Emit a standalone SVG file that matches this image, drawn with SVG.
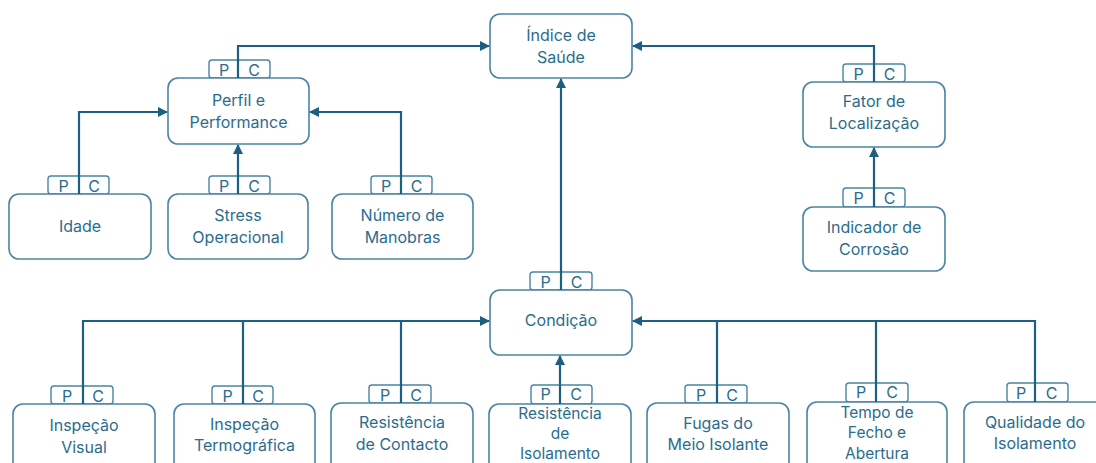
<svg xmlns="http://www.w3.org/2000/svg" width="1096" height="463" viewBox="0 0 1096 463">
<style>
.box{fill:#fff;stroke:#4A84A4;stroke-width:1.6}
.tab{fill:#fff;stroke:#4A84A4;stroke-width:1.4}
.t{font-family:Inter,"Open Sans","Liberation Sans",sans-serif;font-size:16px;fill:#2B6C8E;text-anchor:middle}
.t3{font-family:Inter,"Open Sans","Liberation Sans",sans-serif;font-size:15.5px;fill:#2B6C8E;text-anchor:middle}
.pc{font-family:Inter,"Open Sans","Liberation Sans",sans-serif;font-size:16px;fill:#2B6C8E;text-anchor:middle}
.c{fill:none;stroke:#1D5F80;stroke-width:2.2}
</style>
<defs>
<marker id="a" markerWidth="10" markerHeight="10" refX="9" refY="5" orient="auto" markerUnits="userSpaceOnUse">
<path d="M0,0 L10,5 L0,10 z" fill="#1D5F80"/>
</marker>
</defs>
<rect width="1096" height="463" fill="#fff"/>

<g id="indice">
<rect class="box" x="490" y="14" width="142" height="64" rx="10"/>
<text class="t" x="561" y="41">Índice de</text>
<text class="t" x="561" y="63">Saúde</text>
</g>

<g id="perfil">
<rect class="tab" x="209" y="60" width="61" height="18" rx="3"/>
<text class="pc" x="224" y="75.5">P</text><text class="pc" x="254" y="75.5">C</text>
<rect class="box" x="168" y="78" width="141" height="66" rx="10"/>
<text class="t" x="238.5" y="106">Perfil e</text>
<text class="t" x="238.5" y="128">Performance</text>
</g>

<g id="fator">
<rect class="tab" x="843" y="64" width="62" height="18" rx="3"/>
<text class="pc" x="858.5" y="79.5">P</text><text class="pc" x="889.5" y="79.5">C</text>
<rect class="box" x="803" y="82" width="142" height="65" rx="10"/>
<text class="t" x="874" y="107">Fator de</text>
<text class="t" x="874" y="129">Localização</text>
</g>

<g id="idade">
<rect class="tab" x="48" y="176" width="61" height="18" rx="3"/>
<text class="pc" x="63.5" y="191.5">P</text><text class="pc" x="94" y="191.5">C</text>
<rect class="box" x="9" y="194" width="142" height="65" rx="10"/>
<text class="t" x="80" y="232">Idade</text>
</g>

<g id="stress">
<rect class="tab" x="209" y="176" width="61" height="18" rx="3"/>
<text class="pc" x="224" y="191.5">P</text><text class="pc" x="254" y="191.5">C</text>
<rect class="box" x="168" y="194" width="140" height="65" rx="10"/>
<text class="t" x="238" y="221">Stress</text>
<text class="t" x="238" y="243">Operacional</text>
</g>

<g id="manobras">
<rect class="tab" x="371" y="176" width="61" height="18" rx="3"/>
<text class="pc" x="386" y="191.5">P</text><text class="pc" x="416.5" y="191.5">C</text>
<rect class="box" x="332" y="194" width="141" height="65" rx="10"/>
<text class="t" x="402.5" y="221">Número de</text>
<text class="t" x="402.5" y="243">Manobras</text>
</g>

<g id="corrosao">
<rect class="tab" x="843" y="188" width="62" height="19" rx="3"/>
<text class="pc" x="858.5" y="204">P</text><text class="pc" x="889.5" y="204">C</text>
<rect class="box" x="803" y="207" width="142" height="64" rx="10"/>
<text class="t" x="874" y="233">Indicador de</text>
<text class="t" x="874" y="255">Corrosão</text>
</g>

<g id="condicao">
<rect class="tab" x="530" y="272" width="62" height="18" rx="3"/>
<text class="pc" x="545.5" y="287.5">P</text><text class="pc" x="576.5" y="287.5">C</text>
<rect class="box" x="490" y="290" width="142" height="65" rx="10"/>
<text class="t" x="561" y="326">Condição</text>
</g>

<g id="visual">
<rect class="tab" x="51" y="386" width="62" height="18" rx="3"/>
<text class="pc" x="67" y="401.5">P</text><text class="pc" x="98" y="401.5">C</text>
<rect class="box" x="13" y="404" width="142" height="70" rx="10"/>
<text class="t" x="84" y="431">Inspeção</text>
<text class="t" x="84" y="453">Visual</text>
</g>

<g id="termografica">
<rect class="tab" x="212" y="386" width="61" height="18" rx="3"/>
<text class="pc" x="227.5" y="401.5">P</text><text class="pc" x="258" y="401.5">C</text>
<rect class="box" x="174" y="404" width="141" height="70" rx="10"/>
<text class="t" x="244.5" y="430">Inspeção</text>
<text class="t" x="244.5" y="451">Termográfica</text>
</g>

<g id="contacto">
<rect class="tab" x="369" y="385" width="62" height="18" rx="3"/>
<text class="pc" x="385" y="400.5">P</text><text class="pc" x="416" y="400.5">C</text>
<rect class="box" x="331" y="403" width="142" height="70" rx="10"/>
<text class="t" x="402" y="428">Resistência</text>
<text class="t" x="402" y="450">de Contacto</text>
</g>

<g id="isolamento">
<rect class="tab" x="531" y="385" width="61" height="19" rx="3"/>
<text class="pc" x="545.5" y="399.5">P</text><text class="pc" x="576" y="399.5">C</text>
<rect class="box" x="489" y="404" width="142" height="70" rx="10"/>
<text class="t3" x="560" y="419">Resistência</text>
<text class="t3" x="560" y="439">de</text>
<text class="t3" x="560" y="458.5">Isolamento</text>
</g>

<g id="fugas">
<rect class="tab" x="685" y="385" width="62" height="18" rx="3"/>
<text class="pc" x="701" y="400.5">P</text><text class="pc" x="732" y="400.5">C</text>
<rect class="box" x="647" y="403" width="142" height="70" rx="10"/>
<text class="t" x="718" y="429">Fugas do</text>
<text class="t" x="718" y="450">Meio Isolante</text>
</g>

<g id="tempo">
<rect class="tab" x="846" y="383" width="62" height="19" rx="3"/>
<text class="pc" x="861" y="398">P</text><text class="pc" x="892" y="398">C</text>
<rect class="box" x="807" y="402" width="140" height="70" rx="10"/>
<text class="t3" x="877" y="417.5">Tempo de</text>
<text class="t3" x="877" y="438">Fecho e</text>
<text class="t3" x="877" y="458.5">Abertura</text>
</g>

<g id="qualidade">
<rect class="tab" x="1007" y="383" width="61" height="19" rx="3"/>
<text class="pc" x="1021" y="399">P</text><text class="pc" x="1051.5" y="399">C</text>
<rect class="box" x="964" y="402" width="142" height="70" rx="10"/>
<text class="t" x="1035" y="428">Qualidade do</text>
<text class="t" x="1035" y="449">Isolamento</text>
</g>

<g id="connectors">
<path class="c" d="M238,78 V46 H489" marker-end="url(#a)"/>
<path class="c" d="M874,82 V46 H633" marker-end="url(#a)"/>
<path class="c" d="M79,194 V112 H167" marker-end="url(#a)"/>
<path class="c" d="M238,194 V145" marker-end="url(#a)"/>
<path class="c" d="M401,194 V112 H310" marker-end="url(#a)"/>
<path class="c" d="M874,207 V148" marker-end="url(#a)"/>
<path class="c" d="M561,290 V79" marker-end="url(#a)"/>
<path class="c" d="M83,404 V321 H489" marker-end="url(#a)"/>
<path class="c" d="M243,404 V321"/>
<path class="c" d="M401,403 V321"/>
<path class="c" d="M560,404 V356" marker-end="url(#a)"/>
<path class="c" d="M1035,402 V321 H633" marker-end="url(#a)"/>
<path class="c" d="M717,403 V321"/>
<path class="c" d="M876,402 V321"/>
</g>
</svg>
